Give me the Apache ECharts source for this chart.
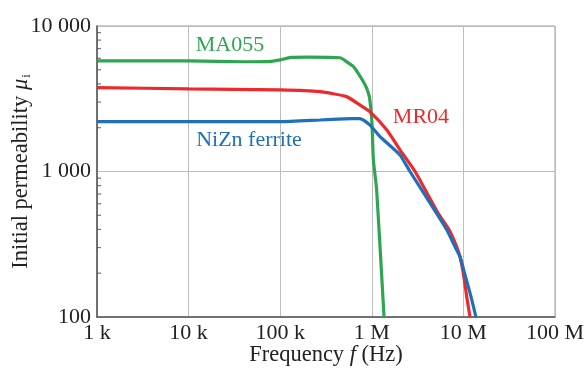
<!DOCTYPE html>
<html>
<head>
<meta charset="utf-8">
<script src="https://cdn.jsdelivr.net/npm/echarts@6/dist/echarts.min.js"></script>
<style>
html, body { margin: 0; padding: 0; background: #fff; }
#chart { width: 586px; height: 374px; }
</style>
</head>
<body>
<div id="chart"></div>
<script>
// frequency (Hz) / initial permeability
const freqMA055 = [1e3, 1e4, 4e4, 8e4, 1e5, 1.3e5, 2e5, 4.5e5, 5.3e5, 6.3e5, 7.1e5, 8.1e5, 8.8e5, 9.4e5, 9.7e5, 1.0e6, 1.02e6, 1.04e6, 1.13e6, 1.36e6]
const muMA055 = [5750, 5750, 5680, 5720, 5850, 6080, 6120, 6050, 5690, 5250, 4730, 4140, 3730, 3270, 2790, 2260, 1650, 1200, 746, 100]

const freqMR04 = [1e3, 1e4, 1e5, 2.7e5, 5.3e5, 7.4e5, 9.5e5, 1.46e6, 2.03e6, 2.97e6, 5.3e6, 7.0e6, 8.45e6, 9.18e6, 9.98e6, 1.087e7, 1.18e7]
const muMR04 = [3770, 3700, 3640, 3540, 3270, 2870, 2580, 1930, 1410, 1000, 516, 396, 304, 260, 200, 138, 100]

const freqNiZn = [1e3, 1e4, 1e5, 2.7e5, 5e5, 7.4e5, 9.5e5, 1.23e6, 2.03e6, 2.61e6, 5.1e6, 6.6e6, 8.1e6, 9.18e6, 1.03e7, 1.21e7, 1.37e7]
const muNiZn = [2200, 2200, 2200, 2260, 2300, 2310, 2090, 1735, 1300, 1000, 516, 396, 304, 260, 200, 138, 100]

const xTickLabels = ['1 k', '10 k', '100 k', '1 M', '10 M', '100 M']
const yTickLabels = ['100', '1 000', '10 000']
const yMinorTicks = [200, 300, 400, 500, 600, 700, 800, 900, 2000, 3000, 4000, 5000, 6000, 7000, 8000, 9000]

const serif = 'Liberation Serif'
const green = '#2ea651'
const red = '#ec2a2d'
const blue = '#1f6fb9'

const chart = echarts.init(document.getElementById('chart'))

function zip(xs, ys) {
  return xs.map((x, i) => [x, ys[i]])
}

function curve(name, xs, ys, color, labelAt) {
  return {
    name,
    type: 'line',
    data: zip(xs, ys),
    showSymbol: false,
    smooth: 0.18,
    lineStyle: { color, width: 3.2 },
    itemStyle: { color },
    markPoint: {
      symbol: 'circle',
      symbolSize: 0,
      silent: true,
      label: {
        show: true,
        position: 'inside',
        formatter: name,
        color,
        fontFamily: serif,
        fontSize: 22,
      },
      data: [{ coord: labelAt }],
    },
  }
}

chart.setOption({
  animation: false,
  grid: {
    left: 97,
    right: 31,
    top: 26,
    bottom: 57,
    containLabel: false,
    outerBoundsMode: 'none',
    show: true,
    borderColor: '#9a9a9a',
    borderWidth: 1,
  },
  xAxis: {
    type: 'log',
    logBase: 10,
    min: 1e3,
    max: 1e8,
    name: '{a|Frequency }{i|f}{a| (Hz)}',
    nameLocation: 'middle',
    nameGap: 27,
    nameMoveOverlap: false,
    nameTextStyle: {
      rich: {
        a: { fontFamily: serif, fontSize: 22.5, color: '#222' },
        i: { fontFamily: serif, fontSize: 22.5, fontStyle: 'italic', color: '#222' },
      },
    },
    axisLine: { lineStyle: { color: '#555', width: 1.5 } },
    axisTick: { show: false },
    axisLabel: {
      margin: 5,
      fontFamily: serif,
      fontSize: 22,
      color: '#222',
      formatter: (v) => xTickLabels[Math.round(Math.log10(v)) - 3],
    },
    splitLine: { lineStyle: { color: '#bdbdbd', width: 1 } },
  },
  yAxis: {
    type: 'log',
    logBase: 10,
    min: 100,
    max: 10000,
    name: '{a|Initial permeability }{i|μ}{s|i}',
    nameLocation: 'middle',
    nameGap: 64,
    nameMoveOverlap: false,
    nameTextStyle: {
      rich: {
        a: { fontFamily: serif, fontSize: 22.5, color: '#222' },
        i: { fontFamily: serif, fontSize: 22.5, fontStyle: 'italic', color: '#222' },
        s: { fontFamily: serif, fontSize: 13, color: '#222', verticalAlign: 'bottom', padding: [8, 0, 0, 1] },
      },
    },
    axisLine: { show: true, lineStyle: { color: '#555', width: 1.5 } },
    axisTick: { show: false },
    axisLabel: {
      margin: 6,
      fontFamily: serif,
      fontSize: 22,
      color: '#222',
      formatter: (v) => yTickLabels[Math.round(Math.log10(v)) - 2],
    },
    splitLine: { lineStyle: { color: '#bdbdbd', width: 1 } },
  },
  series: [
    {
      type: 'scatter',
      silent: true,
      data: yMinorTicks.map((v) => [1e3, v]),
      symbol: 'rect',
      symbolSize: [4, 1.2],
      symbolOffset: [2, 0],
      itemStyle: { color: '#555' },
      z: 1,
    },
    curve('MA055', freqMA055, muMA055, green, [2.83e4, 7350]),
    curve('MR04', freqMR04, muMR04, red, [3.44e6, 2370]),
    curve('NiZn ferrite', freqNiZn, muNiZn, blue, [4.56e4, 1650]),
  ],
})
</script>
</body>
</html>
